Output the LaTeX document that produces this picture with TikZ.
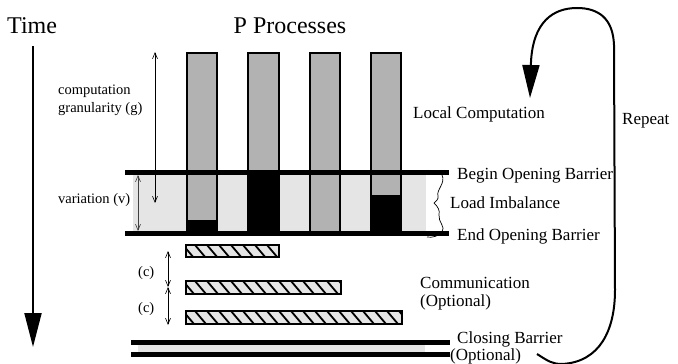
\documentclass[tikz,border=0pt]{standalone}
\usepackage{fontspec}
\setmainfont{Liberation Serif}
\usetikzlibrary{arrows.meta}
\newcommand\hatchrect[4]{%
  \begin{scope}
    \clip (#1,#2) rectangle (#3,#4);
    \fill[black!10] (#1,#2) rectangle (#3,#4);
    \foreach \i in {0,...,20} {\draw[line width=1.8pt] ({#1+12*\i-3},#2) -- ++(11,13);}
  \end{scope}
  \draw[line width=1.5pt] (#1,#2) rectangle (#3,#4);}
\begin{document}
\begin{tikzpicture}[x=1pt,y=-1pt,
  big/.style={font=\fontsize{24}{26}\selectfont, inner sep=0pt, anchor=base west},
  mid/.style={font=\fontsize{17}{19}\selectfont, inner sep=0pt, anchor=base west},
  small/.style={font=\fontsize{14.5}{16}\selectfont, inner sep=0pt, anchor=base west},
  barrier/.style={line width=5pt},
  procbar/.style={draw=black, line width=2pt, fill=black!30},
  dim/.style={line width=0.6pt, {Straight Barb[length=6pt,width=5pt]}-{Straight Barb[length=6pt,width=5pt]}}
]
\useasboundingbox (0,0) rectangle (678,364);

% titles
\node[big] (time) at (7,33) {Time};
\node[big, anchor=base] (pproc) at (290,33) {P Processes};

% time arrow
\coordinate (tstart) at (33,46);
\coordinate (tend) at (33,347);
\draw[line width=2pt, -{Triangle[length=34pt,width=17pt]}] (tstart) -- (tend);

% light gray load imbalance region
\fill[black!10] (133,175) rectangle (426,231);

% process bars
\draw[procbar] (187,53) rectangle (217,232);
\fill[black] (187,220) rectangle (217,232);
\draw[line width=2pt] (187,53) rectangle (217,232);

\draw[procbar] (248,53) rectangle (279,232);
\fill[black] (248,174) rectangle (279,232);
\draw[line width=2pt] (248,53) rectangle (279,232);

\draw[procbar] (310,53) rectangle (340,233);

\draw[procbar] (371,53) rectangle (401,232);
\fill[black] (371,195) rectangle (401,232);
\draw[line width=2pt] (371,53) rectangle (401,232);

% opening barriers
\coordinate (b1l) at (125,172.5);
\coordinate (b1r) at (449,172.5);
\coordinate (b2l) at (125,233);
\coordinate (b2r) at (449,233);
\draw[barrier] (b1l) -- (b1r);
\draw[barrier] (b2l) -- (b2r);

% granularity and variation arrows
\coordinate (g1) at (155,52);
\coordinate (g2) at (155,203);
\draw[dim] (g1) -- (g2);
\coordinate (v1) at (138,175);
\coordinate (v2) at (138,231);
\draw[dim, draw=black!75] (v1) -- (v2);

\node[small] (gran1) at (58,94) {computation};
\node[small] (gran2) at (58,112) {granularity (g)};
\node[small] (var) at (58,203) {variation (v)};

% brace
\draw[line width=0.7pt] (442,175) .. controls (446,183) and (436,190) .. (438,196)
  .. controls (439,199) and (436,201) .. (434,203)
  .. controls (438,207) and (440,210) .. (439,215)
  .. controls (438,222) and (446,227) .. (442,232)
  .. controls (439,236) and (432,238) .. (427,237);

% right labels
\node[mid] (local) at (413,118) {Local Computation};
\node[mid] (begin) at (457,179) {Begin Opening Barrier};
\node[mid] (load) at (450,208) {Load Imbalance};
\node[mid] (endb) at (457,240) {End Opening Barrier};
\node[mid] (comm) at (420,288) {Communication};
\node[mid] (comm2) at (420,306) {(Optional)};
\node[mid] (closing) at (457,343) {Closing Barrier};
\node[mid] (closing2) at (450,360) {(Optional)};
\node[mid] (repeat) at (622,124) {Repeat};

% communication bars
\hatchrect{186}{245}{279}{257}
\hatchrect{186}{281}{341}{294}
\hatchrect{186}{311}{402}{324}

\coordinate (c1) at (168,251);
\coordinate (c2) at (168,287);
\coordinate (c3) at (168,325);
\draw[dim] (c1) -- (c2);
\draw[dim] (c2) -- (c3);
\node[small] (cl1) at (138,276) {(c)};
\node[small] (cl2) at (138,312) {(c)};

% closing barrier
\fill[black!10] (138,344) rectangle (425,352);
\coordinate (cb1l) at (131,342);
\coordinate (cb1r) at (450,342);
\coordinate (cb2l) at (131,354);
\coordinate (cb2r) at (450,354);
\draw[barrier] (cb1l) -- (cb1r);
\draw[barrier] (cb2l) -- (cb2r);

% repeat arrow
\coordinate (rstart) at (537,354);
\coordinate (rtip) at (530,98);
\draw[line width=2pt, -{Triangle[length=33pt,width=17pt]}] (rstart)
  .. controls (548,361) and (552,364) .. (562,364)
  .. controls (600,362) and (615,330) .. (615,290)
  -- (614,45)
  .. controls (613,18) and (598,8) .. (577,8)
  .. controls (553,8) and (533,22) .. (531,62)
  -- (rtip);
\end{tikzpicture}
\end{document}
